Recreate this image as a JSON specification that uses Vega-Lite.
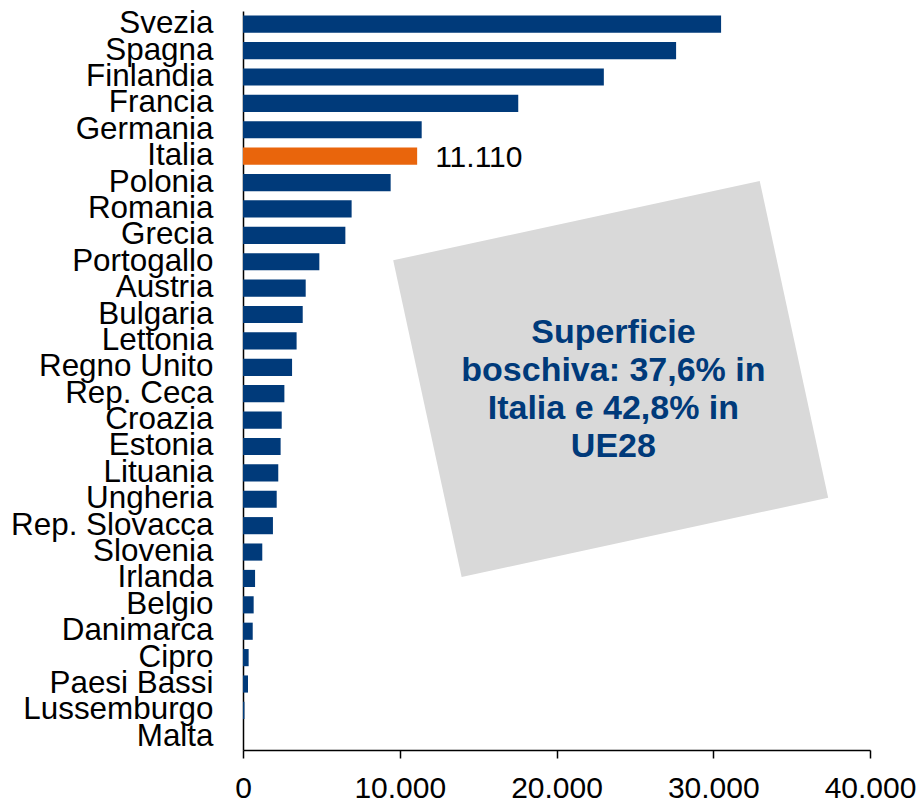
{
  "$schema": "https://vega.github.io/schema/vega-lite/v6.json",
  "width": 627,
  "height": 739,
  "padding": {"left": 10, "top": 7, "right": 0, "bottom": 0},
  "background": "white",
  "config": {
    "view": {"stroke": null},
    "font": "Liberation Sans",
    "locale": {"number": {"decimal": ",", "thousands": ".", "grouping": [3], "currency": ["", " €"]}}
  },
  "datasets": {
    "paesi": [
      {"paese": "Svezia", "valore": 30500},
      {"paese": "Spagna", "valore": 27630},
      {"paese": "Finlandia", "valore": 23020},
      {"paese": "Francia", "valore": 17560},
      {"paese": "Germania", "valore": 11400},
      {"paese": "Italia", "valore": 11110},
      {"paese": "Polonia", "valore": 9420},
      {"paese": "Romania", "valore": 6930},
      {"paese": "Grecia", "valore": 6530},
      {"paese": "Portogallo", "valore": 4870},
      {"paese": "Austria", "valore": 4000},
      {"paese": "Bulgaria", "valore": 3810},
      {"paese": "Lettonia", "valore": 3420},
      {"paese": "Regno Unito", "valore": 3130},
      {"paese": "Rep. Ceca", "valore": 2640},
      {"paese": "Croazia", "valore": 2470},
      {"paese": "Estonia", "valore": 2400},
      {"paese": "Lituania", "valore": 2250},
      {"paese": "Ungheria", "valore": 2150},
      {"paese": "Rep. Slovacca", "valore": 1910},
      {"paese": "Slovenia", "valore": 1230},
      {"paese": "Irlanda", "valore": 770},
      {"paese": "Belgio", "valore": 680},
      {"paese": "Danimarca", "valore": 620},
      {"paese": "Cipro", "valore": 360},
      {"paese": "Paesi Bassi", "valore": 320},
      {"paese": "Lussemburgo", "valore": 90},
      {"paese": "Malta", "valore": 0}
    ],
    "nota": [
      {"nota": "Superficie\nboschiva: 37,6% in\nItalia e 42,8% in\nUE28"}
    ]
  },
  "layer": [
    {
      "data": {"name": "paesi"},
      "encoding": {
        "y": {
          "field": "paese", "type": "nominal", "sort": null,
          "scale": {"paddingInner": 0.35, "paddingOuter": 0.175},
          "axis": {
            "title": null, "ticks": false, "labelPadding": 30,
            "labelFontSize": 31.4, "labelColor": "#000000", "labelFont": "Liberation Sans",
            "labelLimit": 400, "domainColor": "#000000", "domainWidth": 1.5
          }
        },
        "x": {
          "field": "valore", "type": "quantitative",
          "scale": {"domain": [0, 40000], "nice": false},
          "axis": {
            "title": null, "values": [0, 10000, 20000, 30000, 40000], "format": ",.0f",
            "labelFontSize": 30, "labelColor": "#000000", "labelFont": "Liberation Sans",
            "ticks": true, "tickColor": "#000000", "tickSize": 8, "tickWidth": 1.5,
            "domain": true, "domainColor": "#000000", "domainWidth": 1.5, "labelPadding": 15,
            "grid": false, "labelFlush": false, "labelOverlap": false
          }
        }
      },
      "layer": [
        {
          "mark": {"type": "bar"},
          "encoding": {
            "color": {"condition": {"test": "datum.paese === 'Italia'", "value": "#E9650C"}, "value": "#003A7A"}
          }
        },
        {
          "transform": [{"filter": "datum.paese === 'Italia'"}],
          "mark": {"type": "text", "align": "left", "baseline": "middle", "dx": 18, "dy": 2, "fontSize": 30, "color": "#000000", "font": "Liberation Sans"},
          "encoding": {"text": {"field": "valore", "type": "quantitative", "format": ",.0f"}}
        }
      ]
    },
    {
      "data": {"name": "nota"},
      "layer": [
        {
          "mark": {
            "type": "point", "shape": "M-1,-0.864L1,-0.864L1,0.864L-1,0.864Z",
            "size": 140625, "angle": 347.8, "filled": true, "color": "#D9D9D9",
            "opacity": 1, "strokeWidth": 0
          },
          "encoding": {
            "x": {"datum": 23457, "type": "quantitative"},
            "y": {"datum": 50.2, "type": "quantitative", "scale": {"domain": [0, 100], "nice": false}, "axis": null}
          }
        },
        {
          "mark": {
            "type": "text", "align": "center", "baseline": "alphabetic",
            "lineBreak": "\n", "lineHeight": 38, "font": "Liberation Sans",
            "fontWeight": "bold", "fontSize": 34, "color": "#003A7A"
          },
          "encoding": {
            "x": {"datum": 23630, "type": "quantitative"},
            "y": {"datum": 55.1, "type": "quantitative", "scale": {"domain": [0, 100], "nice": false}, "axis": null},
            "text": {"field": "nota", "type": "nominal"}
          }
        }
      ]
    }
  ],
  "resolve": {"scale": {"y": "independent"}}
}
